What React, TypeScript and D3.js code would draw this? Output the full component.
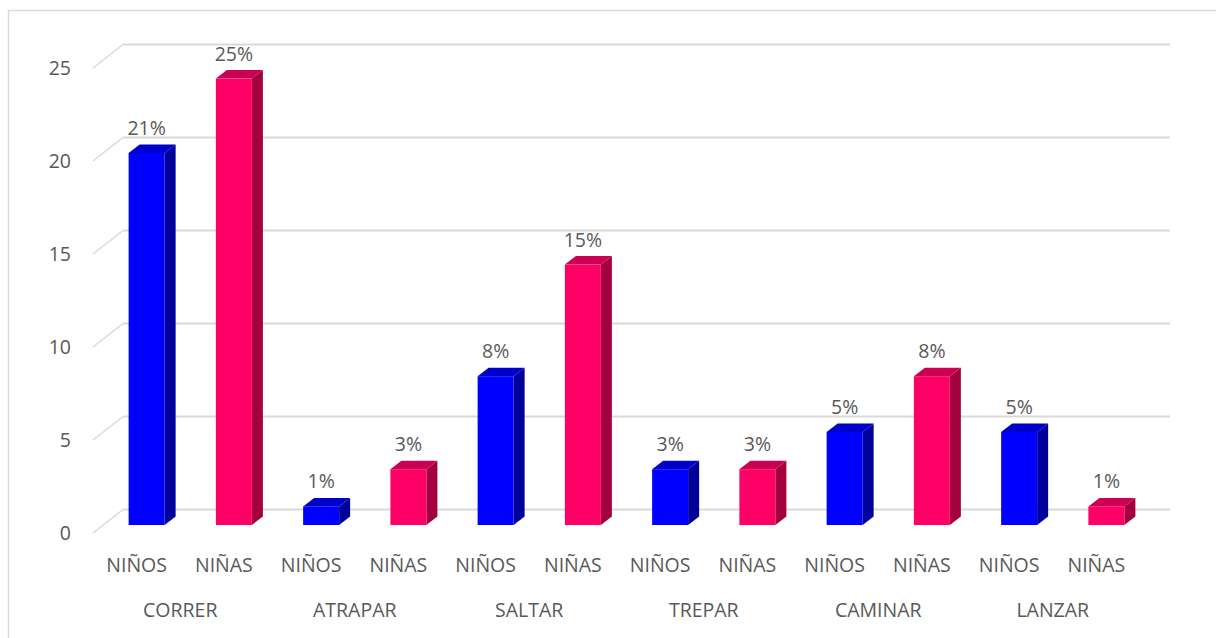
import React from 'react';
import * as d3 from 'd3';

const categories = ['CORRER', 'ATRAPAR', 'SALTAR', 'TREPAR', 'CAMINAR', 'LANZAR'];
const groups = ['NIÑOS', 'NIÑAS'];
const ninos = [20, 1, 8, 3, 5, 5];
const ninas = [24, 3, 14, 3, 8, 1];
const ninosLabels = ['21%', '1%', '8%', '3%', '5%', '5%'];
const ninasLabels = ['25%', '3%', '15%', '3%', '8%', '1%'];
const yTicks = [0, 5, 10, 15, 20, 25];

const W = 1216;
const H = 638;
const FONT = '"Open Sans", sans-serif';
const FS = 19.5;
const TEXT = '#595959';
const GRID = '#d9d9d9';

// perspective offsets (front plane -> back wall, front plane -> bar front)
const back = { dx: 30, dy: -23.5 };
const barFront = { dx: 10, dy: -8 };
const barDepth = { dx: 11, dy: -8.5 };
const barW = 36;

const colors = {
    'NIÑOS': { front: '#0000ff', top: '#0000cc', side: '#00009a' },
    'NIÑAS': { front: '#ff0066', top: '#cc0052', side: '#a3003f' }
};

type Bar = { cat: string; group: string; value: number; label: string; key: string };

const bars: Bar[] = categories.flatMap((c, i) => [
    { cat: c, group: groups[0], value: ninos[i], label: ninosLabels[i], key: `${c}-${groups[0]}` },
    { cat: c, group: groups[1], value: ninas[i], label: ninasLabels[i], key: `${c}-${groups[1]}` }
]);

export default function App() {
    const x = d3.scaleBand<string>()
        .domain(bars.map((b) => b.key))
        .range([93, 1140])
        .padding(0);

    const y = d3.scaleLinear()
        .domain([0, 25])
        .range([533, 68]);

    const bw = x.bandwidth();
    const pts = (p: [number, number][]) => p.map((q) => q.join(',')).join(' ');

    return (
        <svg width={W} height={H} style={{ position: 'absolute', left: 0, top: 0 }}>
            <rect x={0} y={0} width={W} height={H} fill="#fff" />
            <path d={`M8.5,${H + 2} V10.5 H${W + 2}`} fill="none" stroke={GRID} strokeWidth={1.5} />

            {/* grid: back wall lines plus left diagonals */}
            {yTicks.map((t) => (
                <g key={t}>
                    <line
                        x1={93 + back.dx} x2={1140 + back.dx}
                        y1={y(t) + back.dy} y2={y(t) + back.dy}
                        stroke={GRID} strokeWidth={2}
                    />
                    <line
                        x1={93} x2={93 + back.dx}
                        y1={y(t)} y2={y(t) + back.dy}
                        stroke={GRID} strokeWidth={1.5}
                    />
                    <text
                        x={71} y={y(t) + 7}
                        textAnchor="end" fontFamily={FONT} fontSize={FS} fill={TEXT}
                    >
                        {t}
                    </text>
                </g>
            ))}

            {/* bars */}
            {bars.map((b) => {
                const c = colors[b.group as keyof typeof colors];
                const fx = (x(b.key) ?? 0) + (bw - barW) / 2 + barFront.dx;
                const fy = y(b.value) + barFront.dy;
                const by = y(0) + barFront.dy;
                const ddx = barDepth.dx;
                const ddy = barDepth.dy;
                return (
                    <g key={b.key}>
                        <polygon
                            points={pts([[fx + barW, fy], [fx + barW + ddx, fy + ddy], [fx + barW + ddx, by + ddy], [fx + barW, by]])}
                            fill={c.side}
                        />
                        <polygon
                            points={pts([[fx, fy], [fx + barW, fy], [fx + barW + ddx, fy + ddy], [fx + ddx, fy + ddy]])}
                            fill={c.top}
                        />
                        <rect x={fx} y={fy} width={barW} height={by - fy} fill={c.front} />
                        <text
                            x={fx + barW / 2} y={fy - 18}
                            textAnchor="middle" fontFamily={FONT} fontSize={FS} fill={TEXT}
                        >
                            {b.label}
                        </text>
                    </g>
                );
            })}

            {/* axis labels */}
            {bars.map((b) => (
                <text
                    key={`l-${b.key}`}
                    x={(x(b.key) ?? 0) + bw / 2} y={572}
                    textAnchor="middle" fontFamily={FONT} fontSize={FS} fill={TEXT}
                >
                    {b.group}
                </text>
            ))}
            {categories.map((c) => (
                <text
                    key={`c-${c}`}
                    x={(x(`${c}-${groups[0]}`) ?? 0) + bw} y={617}
                    textAnchor="middle" fontFamily={FONT} fontSize={FS} fill={TEXT}
                >
                    {c}
                </text>
            ))}
        </svg>
    );
}
